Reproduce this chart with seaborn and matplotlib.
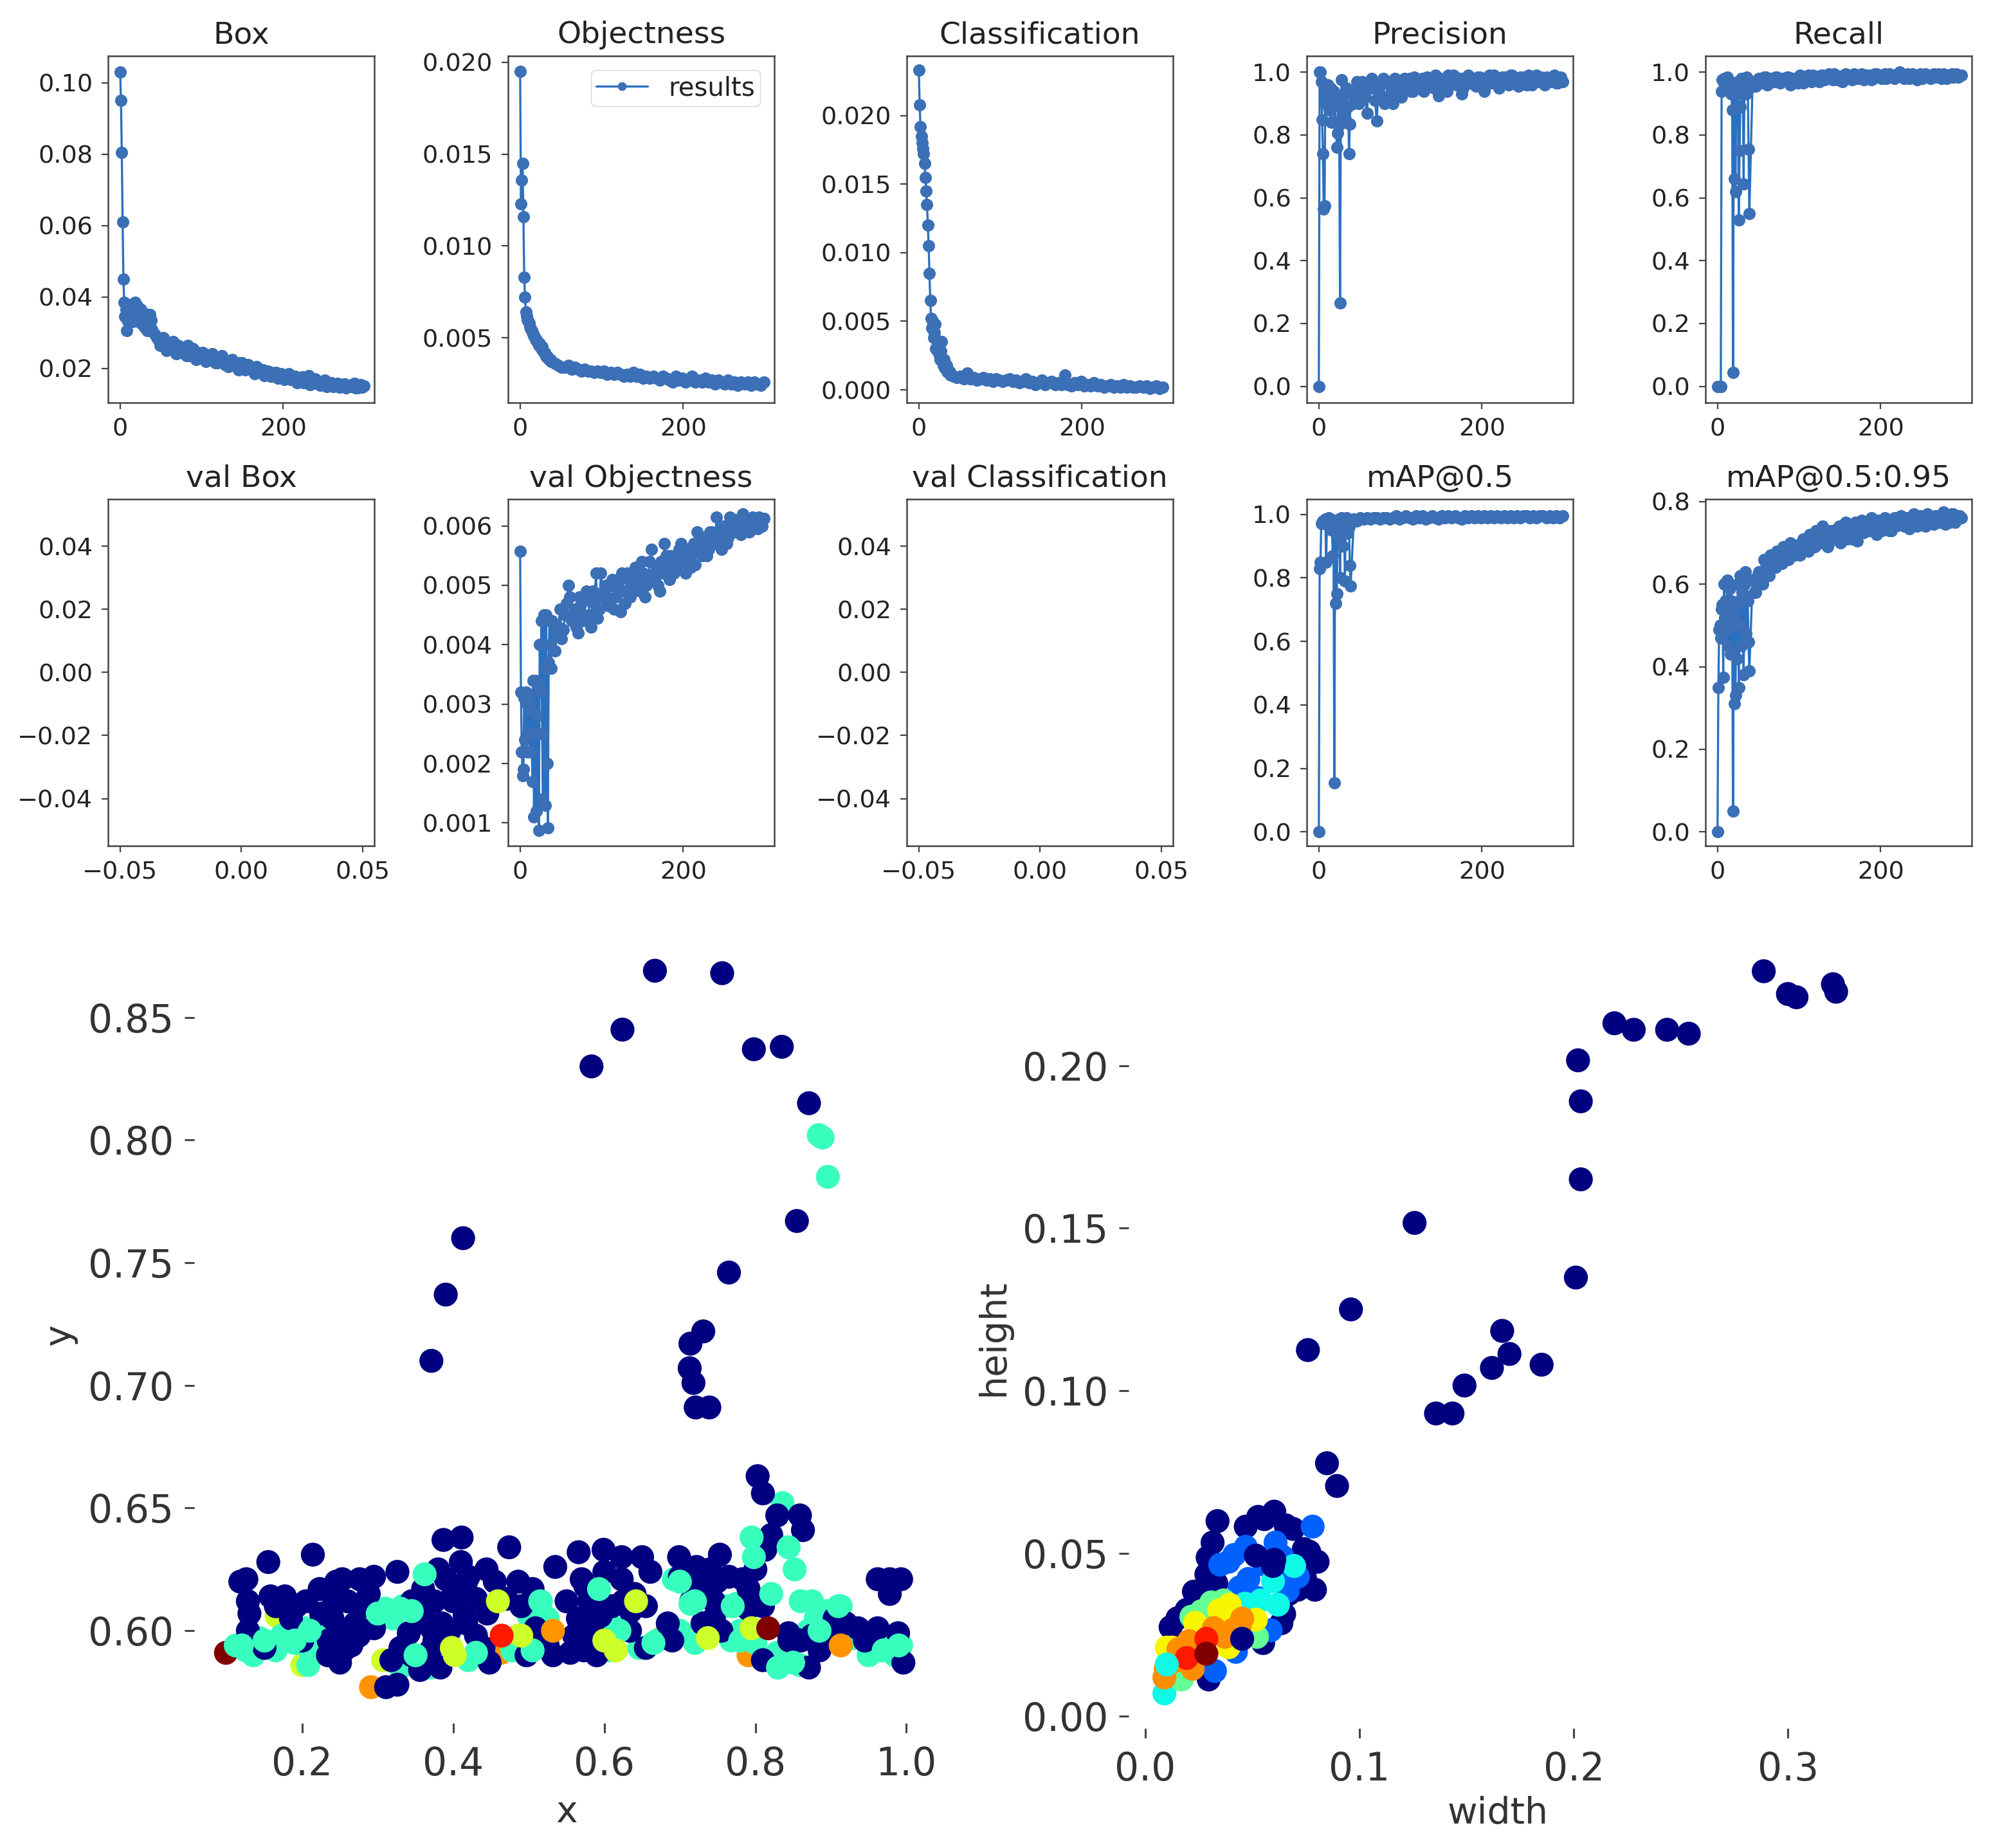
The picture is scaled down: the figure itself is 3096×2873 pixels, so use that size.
import pandas as pd
import matplotlib
matplotlib.use("Agg")
import matplotlib.pyplot as plt
import seaborn as sns

W, H = 3096, 2873
S = 3096 / 1568  # layout below was measured on the 1568 wide view

epochs = [0,1,2,3,4,5,6,7,8,9,10,11,12,13,14,15,16,17,18,19,20,21,22,23,24,25,26,27,28,29,30,31,32,33,34,35,36,37,38,39,
          43,47,51,55,59,63,67,71,75,79,83,87,91,95,99,103,107,111,115,119,123,127,131,135,139,143,147,151,155,159,
          163,167,171,175,179,183,187,191,195,199,203,207,211,215,219,223,227,231,235,239,243,247,251,255,259,263,267,271,275,279,
          283,287,291,295,299]

# extra epochs for the series whose band is thick
extra_epochs = [45,49,53,57,61,65,69,73,77,81,85,89,93,97,101,105,109,113,117,121,125,129,133,137,141,145,149,153,157,161,
                165,169,173,177,181,185,189,193,197,201,205,209,213,217,221,225,229,233,237,241,245,249,253,257,261,265,
                269,273,277,281,285,289,293,297]

box = [0.103,0.095,0.0805,0.061,0.045,0.0385,0.0345,0.0365,0.0305,0.0335,
       0.0375,0.034,0.0355,0.0345,0.038,0.033,0.0365,0.034,0.0385,0.0335,
       0.036,0.0375,0.033,0.0355,0.0345,0.0365,0.0325,0.035,0.033,0.0355,
       0.0315,0.0345,0.0335,0.0305,0.034,0.032,0.035,0.0305,0.0335,0.031,
       0.0295,0.028,0.0275,0.0265,0.027,0.026,0.0255,0.0265,0.0245,0.024,
       0.0265,0.0245,0.0235,0.0245,0.023,0.024,0.0225,0.0235,0.0225,0.0215,
       0.023,0.022,0.0215,0.021,0.022,0.0205,0.0215,0.020,0.021,0.0205,
       0.0195,0.0205,0.019,0.0195,0.0185,0.019,0.018,0.0188,0.0175,0.0182,
       0.0175,0.0185,0.017,0.0178,0.0168,0.0175,0.0165,0.018,0.016,0.017,
       0.0163,0.0158,0.0166,0.0155,0.016,0.015,0.0158,0.0148,0.0156,0.0152,
       0.0148,0.0157,0.0146,0.0155,0.015]
box_extra = [0.0285,0.0265,0.0285,0.025,0.0255,0.0275,0.024,0.0245,0.0255,0.0235,
             0.0235,0.0255,0.0225,0.023,0.0245,0.022,0.0225,0.024,0.0215,0.022,
             0.0235,0.021,0.0205,0.0225,0.021,0.0195,0.0215,0.0195,0.021,0.0195,
             0.0185,0.0198,0.0195,0.018,0.0192,0.0178,0.0185,0.0172,0.0185,0.0168,
             0.0178,0.0168,0.0172,0.016,0.017,0.016,0.0172,0.0155,0.0165,0.0158,
             0.0152,0.016,0.0148,0.0157,0.0148,0.0155,0.0147,0.0155,0.0145,0.015,
             0.0155,0.0145,0.0152,0.0147]

objectness = [0.0195,0.0123,0.0136,0.0145,0.0116,0.0083,0.0072,0.0064,0.0062,0.006,
              0.0059,0.0058,0.0056,0.0055,0.0054,0.0053,0.0052,0.0051,0.005,0.0049,
              0.0049,0.0048,0.0047,0.0046,0.0047,0.0045,0.0044,0.0045,0.0043,0.0042,
              0.0042,0.0041,0.004,0.004,0.0039,0.0039,0.0038,0.0038,0.0037,0.0037,
              0.0036,0.0035,0.0034,0.0034,0.0035,0.0033,0.0034,0.0033,0.0032,0.0033,
              0.0032,0.0032,0.0031,0.0032,0.0031,0.0032,0.003,0.0031,0.003,0.0031,
              0.003,0.0029,0.003,0.0029,0.0031,0.0029,0.003,0.0028,0.0029,0.0028,
              0.0029,0.0028,0.0027,0.0029,0.0028,0.0027,0.0026,0.0029,0.0027,0.0028,
              0.0026,0.0027,0.0029,0.0026,0.0027,0.0026,0.0028,0.0026,0.0027,0.0025,
              0.0027,0.0026,0.0025,0.0027,0.0025,0.0026,0.0024,0.0026,0.0025,0.0026,
              0.0024,0.0026,0.0025,0.0024,0.0026]

classification = [0.0233,0.0208,0.0192,0.0185,0.018,0.0176,0.0172,0.0165,0.0155,0.0145,
                  0.0135,0.012,0.0105,0.0085,0.0065,0.0052,0.0045,0.005,0.0038,0.0042,
                  0.0048,0.003,0.0036,0.0028,0.0034,0.0025,0.0022,0.0028,0.0035,0.002,
                  0.0018,0.0022,0.0016,0.0015,0.0018,0.0013,0.0014,0.0012,0.0013,0.0011,
                  0.001,0.0009,0.001,0.0008,0.0012,0.0008,0.0009,0.0007,0.0008,0.0009,
                  0.0007,0.0008,0.0006,0.0008,0.0007,0.0006,0.0007,0.0008,0.0006,0.0007,
                  0.0005,0.0006,0.0008,0.0005,0.0006,0.0004,0.0005,0.0007,0.0004,0.0005,
                  0.0006,0.0004,0.0005,0.0004,0.0011,0.0004,0.0003,0.0005,0.0004,0.0006,
                  0.0003,0.0004,0.0003,0.0005,0.0003,0.0004,0.0002,0.0003,0.0004,0.0002,
                  0.0003,0.0002,0.0004,0.0002,0.0003,0.0002,0.0002,0.0003,0.0002,0.0003,
                  0.0001,0.0002,0.0003,0.0001,0.0002]

precision = [0.0,1.0,1.0,0.97,0.85,0.74,0.565,0.575,0.96,0.93,
             0.90,0.96,0.93,0.88,0.95,0.84,0.92,0.89,0.94,0.84,
             0.90,0.84,0.76,0.805,0.90,0.83,0.265,0.90,0.975,0.92,
             0.86,0.93,0.84,0.89,0.95,0.84,0.89,0.74,0.835,0.93,
             0.90,0.97,0.93,0.96,0.87,0.95,0.97,0.845,0.96,0.98,
             0.92,0.96,0.90,0.97,0.93,0.97,0.95,0.98,0.94,0.97,
             0.96,0.98,0.95,0.98,0.965,0.99,0.925,0.97,0.96,0.99,
             0.97,0.985,0.96,0.93,0.975,0.99,0.97,0.96,0.985,0.97,
             0.94,0.985,0.97,0.99,0.975,0.96,0.985,0.97,0.99,0.975,
             0.965,0.985,0.97,0.96,0.98,0.965,0.99,0.97,0.975,0.985,
             0.97,0.985,0.965,0.98,0.97]
precision_extra = [0.94,0.90,0.97,0.92,0.95,0.98,0.91,0.94,0.97,0.90,
                   0.97,0.94,0.98,0.95,0.92,0.98,0.96,0.94,0.985,0.95,
                   0.975,0.94,0.985,0.97,0.95,0.985,0.96,0.98,0.94,0.97,
                   0.99,0.96,0.98,0.95,0.985,0.965,0.98,0.955,0.985,0.975,
                   0.96,0.99,0.965,0.98,0.95,0.985,0.97,0.96,0.99,0.97,
                   0.955,0.985,0.97,0.99,0.96,0.98,0.97,0.985,0.96,0.98,
                   0.975,0.99,0.965,0.985]

recall = [0.0,0.0,0.0,0.0,0.0,0.94,0.975,0.97,0.98,0.965,
          0.975,0.98,0.985,0.96,0.97,0.95,0.96,0.93,0.88,0.045,
          0.93,0.66,0.62,0.95,0.94,0.97,0.53,0.75,0.89,0.98,
          0.93,0.97,0.645,0.96,0.98,0.93,0.985,0.97,0.755,0.55,
          0.97,0.955,0.98,0.97,0.985,0.965,0.975,0.985,0.97,0.98,
          0.975,0.985,0.97,0.98,0.965,0.985,0.975,0.99,0.97,0.985,
          0.98,0.99,0.975,0.985,0.98,0.995,0.975,0.985,0.99,0.98,
          0.985,0.995,0.98,0.99,0.975,0.99,0.985,0.98,0.995,0.985,
          0.99,0.98,0.995,0.985,0.99,1.0,0.985,0.99,0.98,0.995,
          0.985,0.99,0.98,0.995,0.985,0.99,0.985,0.995,0.98,0.99,
          0.985,0.995,0.99,0.985,0.99]
recall_extra = [0.955,0.975,0.965,0.985,0.96,0.98,0.97,0.985,0.965,0.975,
                0.985,0.96,0.98,0.97,0.99,0.965,0.985,0.975,0.99,0.98,
                0.97,0.99,0.98,0.995,0.975,0.99,0.985,0.97,0.995,0.985,
                0.975,0.99,0.985,0.995,0.98,0.99,0.975,0.995,0.985,0.98,
                0.995,0.985,0.99,0.98,0.995,0.99,0.98,0.995,0.985,0.99,
                0.975,0.995,0.985,0.99,0.98,0.995,0.99,0.985,0.995,0.98,
                0.99,0.985,0.995,0.99]

val_objectness = [0.00557,0.0032,0.0022,0.0018,0.0019,0.0031,0.0024,0.0032,0.0022,0.003,
                  0.0025,0.0031,0.0022,0.0029,0.0025,0.0017,0.0034,0.0011,0.0025,0.0034,
                  0.0012,0.0028,0.0033,0.00088,0.004,0.0032,0.0044,0.0025,0.0014,0.0045,
                  0.0036,0.0013,0.0045,0.002,0.00092,0.0037,0.0044,0.004,0.0036,0.0044,
                  0.0039,0.0043,0.0041,0.0045,0.005,0.0044,0.0046,0.0042,0.0047,0.0045,
                  0.0048,0.0043,0.0047,0.00445,0.0052,0.0049,0.0047,0.005,0.0046,0.0051,
                  0.00455,0.0049,0.0052,0.0048,0.005,0.0051,0.0049,0.0052,0.005,0.0054,
                  0.0051,0.0053,0.0049,0.0052,0.0055,0.0051,0.0054,0.0053,0.0056,0.0054,
                  0.0052,0.0055,0.0056,0.00535,0.0057,0.0055,0.0058,0.0056,0.0059,0.0057,
                  0.0059,0.0056,0.006,0.0058,0.0061,0.0059,0.006,0.00585,0.00605,0.0061,
                  0.00605,0.0061,0.00595,0.0061,0.00612]
val_objectness_extra = [0.0042,0.0046,0.00425,0.0047,0.0048,0.0045,0.0043,0.0048,0.0044,0.0049,
                        0.0045,0.0049,0.0052,0.0046,0.0048,0.005,0.00465,0.0051,0.0048,0.0049,
                        0.0052,0.0047,0.0051,0.0049,0.0053,0.005,0.0054,0.0048,0.0051,0.0056,
                        0.0052,0.005,0.0054,0.0057,0.0053,0.0055,0.0052,0.0055,0.0057,0.0054,
                        0.0056,0.0053,0.0057,0.0059,0.0056,0.0058,0.0055,0.0059,0.00575,0.00615,
                        0.0058,0.006,0.0057,0.00615,0.0059,0.0061,0.00595,0.0062,0.006,0.0059,
                        0.00615,0.006,0.00615,0.006]

map50 = [0.0,0.83,0.85,0.97,0.975,0.98,0.98,0.97,0.985,0.85,
         0.98,0.985,0.99,0.97,0.985,0.95,0.98,0.87,0.96,0.155,
         0.96,0.72,0.75,0.97,0.93,0.985,0.80,0.97,0.99,0.90,
         0.985,0.97,0.79,0.98,0.99,0.94,0.985,0.96,0.84,0.775,
         0.985,0.98,0.99,0.985,0.99,0.985,0.99,0.99,0.985,0.99,
         0.99,0.985,0.99,0.995,0.985,0.99,0.995,0.99,0.985,0.995,
         0.99,0.995,0.985,0.99,0.995,0.99,0.985,0.995,0.99,0.995,
         0.99,0.995,0.99,0.985,0.995,0.99,0.995,0.99,0.995,0.99,
         0.995,0.99,0.995,0.99,0.995,0.99,0.995,0.99,0.995,0.99,
         0.995,0.99,0.995,0.995,0.99,0.995,0.99,0.995,0.995,0.99,
         0.995,0.99,0.995,0.99,0.995]

map5095 = [0.0,0.35,0.49,0.50,0.47,0.54,0.55,0.375,0.60,0.52,
           0.56,0.49,0.61,0.45,0.54,0.59,0.43,0.56,0.50,0.05,
           0.52,0.31,0.33,0.55,0.42,0.60,0.35,0.56,0.62,0.45,
           0.58,0.50,0.38,0.60,0.63,0.48,0.61,0.56,0.46,0.39,
           0.61,0.58,0.63,0.60,0.65,0.62,0.66,0.64,0.67,0.65,
           0.68,0.66,0.69,0.67,0.695,0.68,0.70,0.68,0.71,0.69,
           0.72,0.70,0.71,0.69,0.73,0.71,0.735,0.70,0.72,0.71,
           0.73,0.72,0.705,0.74,0.725,0.75,0.73,0.745,0.72,0.75,
           0.74,0.755,0.73,0.75,0.74,0.76,0.745,0.755,0.735,0.75,
           0.76,0.745,0.755,0.74,0.76,0.75,0.765,0.75,0.76,0.745,
           0.755,0.77,0.75,0.765,0.76]
map5095_extra = [0.58,0.62,0.60,0.66,0.63,0.67,0.65,0.68,0.66,0.69,
                 0.67,0.70,0.68,0.69,0.67,0.71,0.69,0.72,0.70,0.73,
                 0.70,0.74,0.72,0.70,0.73,0.71,0.74,0.72,0.75,0.73,
                 0.71,0.75,0.73,0.755,0.74,0.73,0.76,0.74,0.755,0.73,
                 0.76,0.745,0.73,0.76,0.75,0.765,0.74,0.76,0.75,0.77,
                 0.74,0.765,0.75,0.77,0.755,0.745,0.765,0.75,0.775,0.755,
                 0.75,0.77,0.755,0.765]

# x / y label scatter, grouped by colour level
xy_darkred_x = [0.099]
xy_darkred_y = [0.591]
xy_orange_x = [0.291, 0.676, 0.463, 0.791]
xy_orange_y = [0.577, 0.597, 0.591, 0.590]
xy_lime_x = [0.486, 0.166, 0.200, 0.307, 0.356, 0.615]
xy_lime_y = [0.598, 0.606, 0.586, 0.588, 0.588, 0.592]
xy_turq_x = [0.112, 0.143, 0.173, 0.204, 0.219, 0.208, 0.288, 0.333, 0.345, 0.432, 0.516, 0.615, 0.692, 0.775,
             0.768, 0.836, 0.852, 0.875, 0.913, 0.859, 0.829, 0.966, 0.993, 0.330, 0.478, 0.646, 0.884, 0.889, 0.896,
             0.125, 0.135, 0.155, 0.165, 0.19, 0.21, 0.225, 0.31, 0.355, 0.32, 0.30, 0.37, 0.42, 0.44, 0.50, 0.525,
             0.67, 0.70, 0.72, 0.76, 0.78, 0.80, 0.83, 0.84, 0.87, 0.88, 0.895, 0.93, 0.95, 0.975, 0.985, 0.565, 0.605]
xy_turq_y = [0.594, 0.597, 0.598, 0.601, 0.600, 0.586, 0.607, 0.610, 0.610, 0.591, 0.612, 0.601, 0.621, 0.611,
             0.596, 0.652, 0.625, 0.612, 0.610, 0.586, 0.591, 0.592, 0.594, 0.585, 0.592, 0.593, 0.802, 0.801, 0.785,
             0.592, 0.590, 0.594, 0.592, 0.595, 0.592, 0.594, 0.609, 0.606, 0.605, 0.605, 0.585, 0.588, 0.590, 0.606, 0.605,
             0.596, 0.600, 0.595, 0.610, 0.600, 0.595, 0.585, 0.588, 0.600, 0.605, 0.608, 0.597, 0.590, 0.595, 0.590, 0.600, 0.592]
xy_navy_x = [0.128, 0.150, 0.200, 0.234, 0.250, 0.265, 0.295, 0.311, 0.326, 0.318, 0.356, 0.383, 0.341, 0.371, 0.417,
             0.448, 0.497, 0.509, 0.532, 0.573, 0.585, 0.634, 0.684, 0.745, 0.810, 0.844, 0.875, 0.890, 0.936, 0.962,
             0.989, 0.996, 0.978, 0.962, 0.993, 0.978, 0.871,
             0.126, 0.118, 0.155, 0.214, 0.128, 0.158, 0.177, 0.192, 0.223, 0.253, 0.276, 0.295, 0.242, 0.288, 0.326,
             0.387, 0.411, 0.474, 0.410, 0.444, 0.390, 0.417, 0.486, 0.505, 0.535, 0.566, 0.599, 0.623, 0.650, 0.699,
             0.722, 0.753, 0.570, 0.623, 0.661, 0.749, 0.722, 0.813, 0.829, 0.859, 0.863, 0.821, 0.783, 0.791,
             0.371, 0.390, 0.413, 0.583, 0.624, 0.667, 0.756, 0.798, 0.835, 0.871, 0.855, 0.765, 0.714, 0.731, 0.713,
             0.718, 0.721, 0.739, 0.803, 0.810,
             0.24, 0.25, 0.26, 0.27, 0.28, 0.245, 0.235, 0.255, 0.275,
             0.345, 0.36, 0.375, 0.385, 0.40, 0.415, 0.43, 0.445, 0.375, 0.395, 0.43, 0.40, 0.42, 0.36, 0.38,
             0.47, 0.49, 0.455,
             0.55, 0.565, 0.58, 0.595, 0.61, 0.625, 0.64, 0.655, 0.56, 0.58, 0.60, 0.575, 0.635,
             0.70, 0.715, 0.735, 0.745, 0.755, 0.73, 0.71, 0.74, 0.765,
             0.80, 0.79, 0.81, 0.845, 0.86, 0.885, 0.90, 0.905, 0.92, 0.945,
             0.13, 0.165, 0.185, 0.205, 0.225,
             0.33, 0.345, 0.37, 0.44, 0.505, 0.525, 0.555, 0.59, 0.655, 0.69]
xy_navy_y = [0.600, 0.593, 0.596, 0.590, 0.587, 0.594, 0.601, 0.577, 0.578, 0.588, 0.584, 0.585, 0.599, 0.601, 0.603,
             0.587, 0.590, 0.601, 0.590, 0.592, 0.603, 0.600, 0.603, 0.605, 0.588, 0.599, 0.598, 0.596, 0.601, 0.601,
             0.599, 0.587, 0.621, 0.621, 0.621, 0.615, 0.585,
             0.621, 0.620, 0.628, 0.631, 0.612, 0.614, 0.614, 0.610, 0.617, 0.621, 0.621, 0.622, 0.613, 0.615, 0.624,
             0.637, 0.638, 0.634, 0.628, 0.625, 0.621, 0.620, 0.620, 0.617, 0.626, 0.632, 0.633, 0.630, 0.630, 0.630,
             0.626, 0.631, 0.621, 0.621, 0.624, 0.620, 0.617, 0.633, 0.647, 0.647, 0.641, 0.639, 0.621, 0.617,
             0.710, 0.737, 0.760, 0.830, 0.845, 0.869, 0.868, 0.837, 0.838, 0.815, 0.767, 0.746, 0.717, 0.722, 0.707,
             0.701, 0.691, 0.691, 0.663, 0.656,
             0.605, 0.598, 0.612, 0.603, 0.610, 0.620, 0.596, 0.592, 0.598,
             0.612, 0.606, 0.612, 0.603, 0.612, 0.606, 0.613, 0.607, 0.596, 0.600, 0.598, 0.615, 0.622, 0.617, 0.625,
             0.613, 0.610, 0.620,
             0.612, 0.605, 0.612, 0.606, 0.610, 0.612, 0.615, 0.610, 0.598, 0.596, 0.624, 0.618, 0.608,
             0.622, 0.612, 0.618, 0.612, 0.600, 0.603, 0.625, 0.625, 0.622,
             0.625, 0.609, 0.610, 0.596, 0.596, 0.592, 0.598, 0.605, 0.603, 0.596,
             0.607, 0.610, 0.605, 0.612, 0.607,
             0.593, 0.590, 0.592, 0.593, 0.595, 0.594, 0.591, 0.590, 0.593, 0.596]
# drawn above the navy points
xy_turq_top_x = [0.362, 0.593, 0.714, 0.798, 0.795, 0.844, 0.821, 0.30, 0.33, 0.345, 0.21, 0.19, 0.15, 0.12, 0.70, 0.72,
                 0.77, 0.62, 0.83, 0.85, 0.86, 0.91, 0.97, 0.99, 0.43, 0.515, 0.78, 0.35, 0.505, 0.665, 0.885]
xy_turq_top_y = [0.623, 0.617, 0.611, 0.630, 0.638, 0.634, 0.615, 0.607, 0.609, 0.608, 0.600, 0.596, 0.596, 0.594, 0.620, 0.612,
                 0.610, 0.600, 0.585, 0.587, 0.612, 0.610, 0.592, 0.594, 0.591, 0.612, 0.596, 0.590, 0.592, 0.595, 0.600]
xy_lime_top_x = [0.459, 0.398, 0.402, 0.795, 0.737, 0.600, 0.642, 0.49, 0.615]
xy_lime_top_y = [0.612, 0.593, 0.590, 0.601, 0.597, 0.596, 0.612, 0.598, 0.592]
xy_orange_top_x = [0.532, 0.913]
xy_orange_top_y = [0.600, 0.594]
xy_red_top_x = [0.464]
xy_red_top_y = [0.598]
xy_darkred_top_x = [0.817]
xy_darkred_top_y = [0.601]

# width / height scatter, same grouping
wh_navy_x = [0.2887, 0.300, 0.304, 0.321, 0.3225, 0.219, 0.228, 0.2436, 0.2537, 0.202, 0.2033, 0.2033, 0.201, 0.1257,
             0.096, 0.0759, 0.1666, 0.170, 0.1618, 0.149, 0.1357, 0.1434, 0.185, 0.0848, 0.0895,
             0.0337, 0.0314, 0.0291, 0.0469, 0.0527, 0.0602, 0.0655, 0.0740, 0.0804, 0.0792, 0.0712, 0.0648, 0.0227,
             0.0331, 0.0193, 0.0118, 0.0296, 0.055, 0.0296,
             0.0555, 0.069, 0.0765, 0.0745, 0.067, 0.0635, 0.0255, 0.0285, 0.015]
wh_navy_y = [0.229, 0.222, 0.221, 0.225, 0.2227, 0.213, 0.211, 0.211, 0.2098, 0.2016, 0.189, 0.165, 0.1348, 0.1516,
             0.125, 0.1125, 0.1184, 0.1113, 0.107, 0.1016, 0.093, 0.093, 0.108, 0.0777, 0.0707,
             0.0599, 0.0533, 0.0487, 0.0582, 0.0612, 0.0628, 0.0586, 0.0513, 0.0474, 0.0388, 0.0388, 0.0313, 0.0382,
             0.0408, 0.0326, 0.0273, 0.0112, 0.0224, 0.0434,
             0.0605, 0.0575, 0.0505, 0.0425, 0.0375, 0.0285, 0.0365, 0.0435, 0.03]
wh_blue_x = [0.0781, 0.0608, 0.0469, 0.0389, 0.0481, 0.0527, 0.0712, 0.0585, 0.0325, 0.0423,
             0.0555, 0.0665, 0.0635, 0.050, 0.044, 0.035, 0.0415, 0.064]
wh_blue_y = [0.0582, 0.0533, 0.052, 0.0474, 0.0421, 0.0362, 0.0428, 0.0263, 0.0138, 0.0197,
             0.0465, 0.0385, 0.042, 0.0305, 0.0395, 0.0465, 0.0495, 0.049]
wh_cyan_x = [0.0694, 0.0539, 0.0596, 0.0619, 0.0089, 0.0465]
wh_cyan_y = [0.0461, 0.0355, 0.0414, 0.0342, 0.0069, 0.0345]
wh_green_x = [0.0308, 0.0521, 0.017, 0.0262, 0.0365, 0.0215]
wh_green_y = [0.0349, 0.0243, 0.0112, 0.0322, 0.0355, 0.0305]
wh_yellow_x = [0.0394, 0.0383, 0.0516, 0.0233, 0.01, 0.0389, 0.028, 0.0345, 0.0125]
wh_yellow_y = [0.0342, 0.0309, 0.0296, 0.0286, 0.021, 0.0211, 0.0265, 0.0325, 0.021]
wh_orange_x = [0.032, 0.0371, 0.0452, 0.0204, 0.0089, 0.0221, 0.0155, 0.0145, 0.0095, 0.0165, 0.041, 0.044]
wh_orange_y = [0.027, 0.0243, 0.0299, 0.023, 0.0118, 0.0145, 0.0205, 0.017, 0.0145, 0.0195, 0.0265, 0.0275]
wh_red_x = [0.0193, 0.0285]
wh_red_y = [0.0178, 0.0237]
wh_darkred_x = [0.0285]
wh_darkred_y = [0.0191]
wh_top_navy_x = [0.0452, 0.0516, 0.0602, 0.0596]
wh_top_navy_y = [0.0237, 0.0493, 0.048, 0.0461]
wh_top_cyan_x = [0.01]
wh_top_cyan_y = [0.0158]

sns.set_theme(style="ticks")
plt.rcParams["font.family"] = ["DejaVu Sans"]

BLUE = "#3b6fb6"
LINE = "#2a70c0"
TEXT = "#222222"
JET = matplotlib.colormaps["jet"]


def add_axes(fig, left, top, right, bottom):
    return fig.add_axes([left * S / W, 1 - bottom * S / H, (right - left) * S / W, (bottom - top) * S / H])


def series_frame(values, extra):
    df = pd.DataFrame({"epoch": epochs, "value": values})
    if extra is not None:
        df = pd.concat([df, pd.DataFrame({"epoch": extra_epochs, "value": extra})])
    return df.sort_values("epoch")


fig = plt.figure(figsize=(W / 100, H / 100), dpi=100, facecolor="white")

lefts = [85, 400, 714, 1029, 1343]
rows = [(44, 317), (393, 666)]

panels = [
    (0, 0, "Box", box, box_extra, (0.0104, 0.1075), [0.02, 0.04, 0.06, 0.08, 0.10], "{:.2f}"),
    (0, 1, "Objectness", objectness, None, (0.00147, 0.02035), [0.005, 0.010, 0.015, 0.020], "{:.3f}"),
    (0, 2, "Classification", classification, None, (-0.00093, 0.02435), [0, 0.005, 0.010, 0.015, 0.020], "{:.3f}"),
    (0, 3, "Precision", precision, precision_extra, (-0.052, 1.052), [0, 0.2, 0.4, 0.6, 0.8, 1.0], "{:.1f}"),
    (0, 4, "Recall", recall, recall_extra, (-0.052, 1.052), [0, 0.2, 0.4, 0.6, 0.8, 1.0], "{:.1f}"),
    (1, 0, "val Box", None, None, (-0.055, 0.055), [-0.04, -0.02, 0, 0.02, 0.04], "{:.2f}"),
    (1, 1, "val Objectness", val_objectness, val_objectness_extra, (0.000615, 0.00645),
     [0.001, 0.002, 0.003, 0.004, 0.005, 0.006], "{:.3f}"),
    (1, 2, "val Classification", None, None, (-0.055, 0.055), [-0.04, -0.02, 0, 0.02, 0.04], "{:.2f}"),
    (1, 3, "mAP@0.5", map50, None, (-0.044, 1.048), [0, 0.2, 0.4, 0.6, 0.8, 1.0], "{:.1f}"),
    (1, 4, "mAP@0.5:0.95", map5095, map5095_extra, (-0.034, 0.806), [0, 0.2, 0.4, 0.6, 0.8], "{:.1f}"),
]

for row, col, title, values, extra, ylim, yticks, fmt in panels:
    top, bottom = rows[row]
    ax = add_axes(fig, lefts[col], top, lefts[col] + 210, bottom)
    if values is not None:
        df = series_frame(values, extra)
        sns.lineplot(data=df, x="epoch", y="value", ax=ax, estimator=None, sort=False, color=LINE, linewidth=2.4,
                     marker="o", markersize=13, markerfacecolor=BLUE, markeredgecolor=BLUE,
                     label="results" if title == "Objectness" else None, legend=title == "Objectness")
        ax.set_xlim(-15, 312)
        ax.set_xticks([0, 200])
    else:
        ax.set_xlim(-0.055, 0.055)
        ax.set_xticks([-0.05, 0, 0.05])
        ax.set_xticklabels(["\u22120.05", "0.00", "0.05"])
    ax.set_xlabel("")
    ax.set_ylabel("")
    ax.set_ylim(*ylim)
    ax.set_yticks(yticks)
    ax.set_yticklabels([fmt.format(v).replace("-", "\u2212") for v in yticks])
    ax.set_title(title, fontsize=34, color=TEXT, pad=14)
    ax.tick_params(labelsize=27.5, length=7, width=1.6, color="#444444", labelcolor=TEXT, pad=10)
    for sp in ax.spines.values():
        sp.set_linewidth(1.8)
        sp.set_color("#444444")
    if title == "Objectness":
        leg = ax.legend(loc="upper right", fontsize=29, frameon=True, handlelength=2.0, borderpad=0.2,
                        labelspacing=0.3, handletextpad=0.8, borderaxespad=0.55, edgecolor="#cccccc", labelcolor=TEXT)
        for h in leg.get_lines():
            h.set_markersize(9)

xy = pd.concat([
    pd.DataFrame({"x": xy_darkred_x, "y": xy_darkred_y, "level": 1.0}),
    pd.DataFrame({"x": xy_orange_x, "y": xy_orange_y, "level": 0.75}),
    pd.DataFrame({"x": xy_lime_x, "y": xy_lime_y, "level": 0.6}),
    pd.DataFrame({"x": xy_turq_x, "y": xy_turq_y, "level": 0.42}),
    pd.DataFrame({"x": xy_navy_x, "y": xy_navy_y, "level": 0.0}),
    pd.DataFrame({"x": xy_turq_top_x, "y": xy_turq_top_y, "level": 0.42}),
    pd.DataFrame({"x": xy_lime_top_x, "y": xy_lime_top_y, "level": 0.6}),
    pd.DataFrame({"x": xy_orange_top_x, "y": xy_orange_top_y, "level": 0.75}),
    pd.DataFrame({"x": xy_red_top_x, "y": xy_red_top_y, "level": 0.88}),
    pd.DataFrame({"x": xy_darkred_top_x, "y": xy_darkred_top_y, "level": 1.0}),
], ignore_index=True)

wh = pd.concat([
    pd.DataFrame({"width": wh_navy_x, "height": wh_navy_y, "level": 0.0}),
    pd.DataFrame({"width": wh_blue_x, "height": wh_blue_y, "level": 0.22}),
    pd.DataFrame({"width": wh_cyan_x, "height": wh_cyan_y, "level": 0.37}),
    pd.DataFrame({"width": wh_green_x, "height": wh_green_y, "level": 0.47}),
    pd.DataFrame({"width": wh_yellow_x, "height": wh_yellow_y, "level": 0.65}),
    pd.DataFrame({"width": wh_orange_x, "height": wh_orange_y, "level": 0.76}),
    pd.DataFrame({"width": wh_red_x, "height": wh_red_y, "level": 0.88}),
    pd.DataFrame({"width": wh_darkred_x, "height": wh_darkred_y, "level": 1.0}),
    pd.DataFrame({"width": wh_top_navy_x, "height": wh_top_navy_y, "level": 0.0}),
    pd.DataFrame({"width": wh_top_cyan_x, "height": wh_top_cyan_y, "level": 0.37}),
], ignore_index=True)

ax1 = add_axes(fig, 153, 745, 740, 1357)
sns.scatterplot(data=xy, x="x", y="y", hue="level", palette=JET, hue_norm=(0, 1), s=720, linewidth=0,
                legend=False, ax=ax1)
ax1.set_xlim(0.057, 1.044)
ax1.set_ylim(0.5622, 0.879)
ax1.set_xticks([0.2, 0.4, 0.6, 0.8, 1.0])
ax1.set_yticks([0.60, 0.65, 0.70, 0.75, 0.80, 0.85])
ax1.set_yticklabels(["0.60", "0.65", "0.70", "0.75", "0.80", "0.85"])

ax2 = add_axes(fig, 889, 745, 1470, 1361)
sns.scatterplot(data=wh, x="width", y="height", hue="level", palette=JET, hue_norm=(0, 1), s=720, linewidth=0,
                legend=False, ax=ax2)
ax2.set_xlim(-0.0077, 0.3367)
ax2.set_ylim(-0.0039, 0.2367)
ax2.set_xticks([0.0, 0.1, 0.2, 0.3])
ax2.set_yticks([0.00, 0.05, 0.10, 0.15, 0.20])
ax2.set_yticklabels(["0.00", "0.05", "0.10", "0.15", "0.20"])

for ax in (ax1, ax2):
    sns.despine(ax=ax, left=True, bottom=True)
    ax.tick_params(labelsize=43, length=11, width=2.2, color="#444444", labelcolor="#333333", pad=12)
    ax.tick_params(axis="x", pad=14)
    ax.xaxis.label.set_size(41)
    ax.yaxis.label.set_size(41)
    ax.xaxis.label.set_color("#333333")
    ax.yaxis.label.set_color("#333333")
    ax.patch.set_alpha(0)

ax1.yaxis.labelpad = 12
ax2.yaxis.labelpad = 12
ax1.xaxis.labelpad = 12
ax2.xaxis.labelpad = 8

fig.savefig("out.png", dpi=100, facecolor="white")
